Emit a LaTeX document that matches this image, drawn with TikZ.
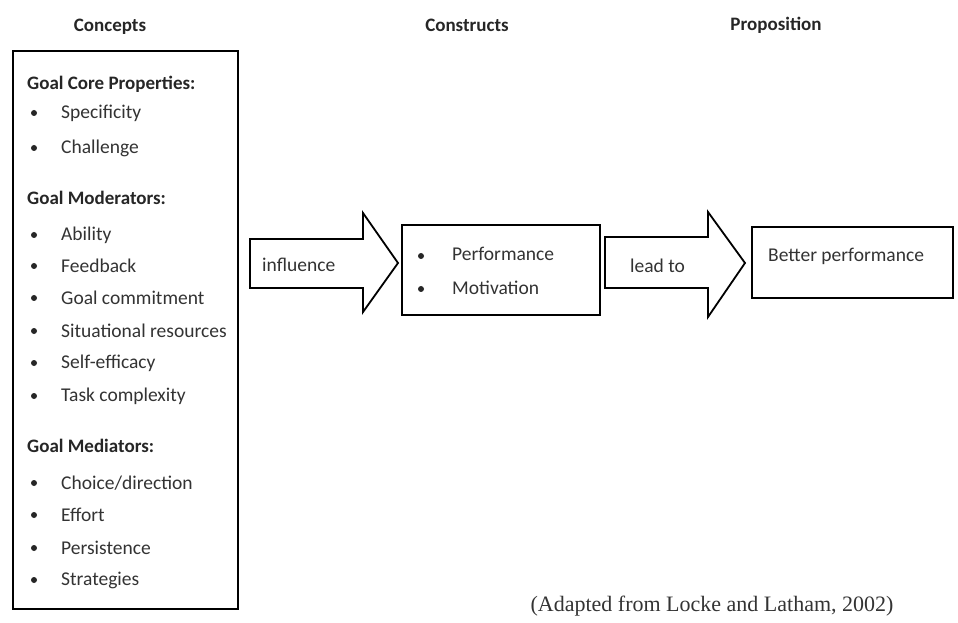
\documentclass[tikz,border=0pt]{standalone}
\usepackage{fontspec}
\setmainfont{Carlito}
\newfontfamily\capfont{Liberation Serif}
\begin{document}
\begin{tikzpicture}[x=1pt,y=1pt,
  box/.style={draw=black,line width=1.8pt,fill=white},
  head/.style={font=\fontsize{19}{22}\selectfont\bfseries,text=black!85},
  item/.style={anchor=west,font=\fontsize{19.5}{22}\selectfont,text=black!80,inner sep=0pt},
  bul/.style={circle,fill=black!85,inner sep=0pt,minimum size=6pt},
  sub/.style={anchor=west,font=\fontsize{19}{22}\selectfont\bfseries,text=black!85,inner sep=0pt},
  arr/.style={draw=black,line width=1.8pt,fill=white,line join=miter}]
\useasboundingbox (0,0) rectangle (958,622);
% headers
\node[head] (h1) at (110,595) {Concepts};
\node[head] (h2) at (467,597) {Constructs};
\node[head] (h3) at (776,597) {Proposition};
% concepts box
\draw[box] (13,571) rectangle (238,13);
\node[sub] (g1) at (27,538) {Goal Core Properties:};
\foreach \t/\y [count=\i] in {Specificity/509,Challenge/474,Ability/387,Feedback/356,Goal commitment/324,Situational resources/291,Self-efficacy/259,Task complexity/226,{Choice/direction}/139,Effort/107,Persistence/74,Strategies/42}{
  \node[bul] (b\i) at (34,\y) {};
  \node[item] (t\i) at (61,\y) {\t};
}
\node[sub] (g2) at (27,424) {Goal Moderators:};
\node[sub] (g3) at (27,176) {Goal Mediators:};
% arrow 1
\draw[arr] (250,383) -- (363,383) -- (363,409) -- (398,359) -- (363,310) -- (363,334) -- (250,334) -- cycle;
\node[item] (l1) at (262,357) {influence};
% constructs box
\draw[box] (402,397) rectangle (600,307);
\node[bul] (cb1) at (421,366) {};
\node[item] (c1) at (452,368) {Performance};
\node[bul] (cb2) at (421,333) {};
\node[item] (c2) at (452,334) {Motivation};
% arrow 2
\draw[arr] (605,385) -- (708,385) -- (708,410) -- (745,359) -- (708,305) -- (708,334) -- (605,334) -- cycle;
\node[item] (l2) at (630,356) {lead to};
% proposition box
\draw[box] (752,395) rectangle (953,324);
\node[item] (p1) at (768,366) {Better performance};
% caption
\node[font=\capfont\fontsize{22}{25}\selectfont,text=black!80] (cap) at (712,16) {(Adapted from Locke and Latham, 2002)};
\end{tikzpicture}
\end{document}
